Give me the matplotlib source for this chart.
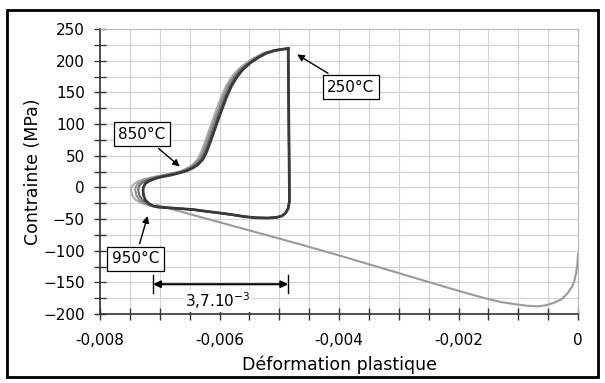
import matplotlib
matplotlib.use("Agg")
import matplotlib.pyplot as plt
from matplotlib.patches import Rectangle
from matplotlib.ticker import MultipleLocator

# upper branch + left turn of each loop (stress, MPa), shared by the 4 loops
upper_y = [219, 218, 216, 212, 205, 196, 186, 174, 160, 143, 123, 102, 86, 70, 55,
           44, 36, 31, 26, 23, 19, 16, 13, 10, 6, 1, -5, -13, -20, -25, -29, -31,
           -32, -33]

# plastic strain on that part, darkest to lightest loop
upper_dark = [-0.00485, -0.00495, -0.00507, -0.00521, -0.00535, -0.00549, -0.00561,
              -0.00571, -0.00580, -0.00588, -0.00596, -0.00604, -0.00610, -0.00616,
              -0.00622, -0.00628, -0.00636, -0.00644, -0.00655, -0.00666, -0.00683,
              -0.00700, -0.00710, -0.00718, -0.00724, -0.00727, -0.00728, -0.00727,
              -0.00724, -0.00719, -0.00712, -0.00703, -0.00690, -0.00675]
upper_mid = [-0.00485, -0.00496, -0.00508, -0.00523, -0.00537, -0.00551, -0.00564,
             -0.00574, -0.00583, -0.00591, -0.00599, -0.00607, -0.00613, -0.00619,
             -0.00625, -0.00631, -0.00639, -0.00647, -0.00658, -0.00670, -0.00688,
             -0.00705, -0.00716, -0.00724, -0.00731, -0.00735, -0.00736, -0.00734,
             -0.00729, -0.00722, -0.00713, -0.00704, -0.00690, -0.00675]
upper_light = [-0.00485, -0.00497, -0.00510, -0.00525, -0.00539, -0.00553, -0.00566,
               -0.00577, -0.00586, -0.00594, -0.00602, -0.00610, -0.00616, -0.00622,
               -0.00628, -0.00634, -0.00642, -0.00650, -0.00661, -0.00673, -0.00692,
               -0.00709, -0.00721, -0.00729, -0.00736, -0.00740, -0.00741, -0.00739,
               -0.00734, -0.00726, -0.00715, -0.00705, -0.00690, -0.00675]
upper_lightest = [-0.00485, -0.00498, -0.00511, -0.00527, -0.00541, -0.00556, -0.00569,
                  -0.00580, -0.00589, -0.00597, -0.00605, -0.00613, -0.00619, -0.00625,
                  -0.00631, -0.00637, -0.00645, -0.00653, -0.00664, -0.00676, -0.00696,
                  -0.00713, -0.00726, -0.00735, -0.00742, -0.00747, -0.00748, -0.00746,
                  -0.00740, -0.00730, -0.00716, -0.00705, -0.00690, -0.00675]

# lower branch + right unloading, common to all loops
lower_x = [-0.00661, -0.00645, -0.00630, -0.00604, -0.00580, -0.00560, -0.00540,
           -0.00520, -0.00505, -0.00495, -0.00489, -0.00485, -0.00483, -0.00483,
           -0.00484, -0.00485]
lower_y = [-34, -35, -37, -40, -43, -46, -48, -48.5, -47.5, -45, -40, -33, -22, -5,
           100, 219]

# first cooling curve
cool_x = [0.0, -0.00001, -0.00003, -0.00006, -0.00010, -0.00018, -0.00028, -0.00042,
          -0.00055, -0.00069, -0.00085, -0.00105, -0.00130, -0.00160, -0.00198,
          -0.00298, -0.00398, -0.00465, -0.00705]
cool_y = [-105, -120, -135, -147, -157, -168, -177, -183, -186.5, -188, -187, -184.5,
          -181, -174, -164, -136, -108, -90, -28]

x_ticks = [-0.008, -0.006, -0.004, -0.002, 0]
x_labels = ["-0,008", "-0,006", "-0,004", "-0,002", "0"]
y_ticks = [-200, -150, -100, -50, 0, 50, 100, 150, 200, 250]

plt.rcParams["font.family"] = "DejaVu Sans"

fig = plt.figure(figsize=(6.05, 3.83), dpi=100)
ax = fig.add_axes([100 / 605, 1 - 314 / 383, 478 / 605, 285 / 383])

fig.patches.append(Rectangle((7 / 605, 1 - 377 / 383), 591 / 605, 367 / 383,
                             transform=fig.transFigure, fill=False,
                             edgecolor="black", linewidth=2))

ax.plot(cool_x, cool_y, color="#9a9a9a", lw=1.5, zorder=3)
loops = [(upper_lightest, "#acacac", 1.5), (upper_light, "#909090", 1.5),
         (upper_mid, "#707070", 1.6), (upper_dark, "#3a3a3a", 2.0)]
for xs, c, w in loops:
    ax.plot(xs + lower_x, upper_y + lower_y, color=c, lw=w, zorder=4,
            solid_joinstyle="round")

ax.set_xlim(-0.008, 0)
ax.set_ylim(-200, 250)
ax.set_xticks(x_ticks)
ax.set_xticklabels(x_labels)
ax.set_yticks(y_ticks)
ax.xaxis.set_minor_locator(MultipleLocator(0.0005))
ax.yaxis.set_minor_locator(MultipleLocator(25))
ax.grid(True, which="both", color="#d2d2d2", lw=0.8, zorder=0)
ax.set_axisbelow(True)
ax.tick_params(which="both", direction="inout", length=8, width=1, color="#333333",
               labelsize=11)
ax.tick_params(axis="x", pad=10)
ax.tick_params(axis="y", pad=7)
for s in ["left", "bottom"]:
    ax.spines[s].set_color("#333333")
    ax.spines[s].set_linewidth(1.2)
for s in ["top", "right"]:
    ax.spines[s].set_color("#b5b5b5")
    ax.spines[s].set_linewidth(0.8)

ax.set_xlabel("Déformation plastique", fontsize=12.5, labelpad=5)
ax.set_ylabel("Contrainte (MPa)", fontsize=12.5, labelpad=1)

box = dict(boxstyle="square,pad=0.3", fc="white", ec="black", lw=0.9)
arrow = dict(arrowstyle="-|>", color="black", lw=1, mutation_scale=10)
ax.annotate("850°C", xy=(-0.00663, 30), xytext=(-0.0073, 84), fontsize=11,
            ha="center", va="center", bbox=box, arrowprops=arrow, zorder=6)
ax.annotate("950°C", xy=(-0.00719, -41), xytext=(-0.00741, -113), fontsize=11,
            ha="center", va="center", bbox=box, arrowprops=arrow, zorder=6)
ax.annotate("250°C", xy=(-0.00474, 212), xytext=(-0.0038, 158), fontsize=11,
            ha="center", va="center", bbox=box, arrowprops=arrow, zorder=6)

# 3,7.10-3 dimension
ax.annotate("", xy=(-0.00711, -153), xytext=(-0.00485, -153),
            arrowprops=dict(arrowstyle="<|-|>", color="black", lw=1.5,
                            shrinkA=0, shrinkB=0, mutation_scale=10), zorder=6)
ax.plot([-0.00711, -0.00711], [-139, -167], color="black", lw=1, zorder=6)
ax.plot([-0.00485, -0.00485], [-139, -167], color="black", lw=1, zorder=6)
ax.text(-0.00603, -179, "3,7.10$^{-3}$", fontsize=11, ha="center", va="center",
        bbox=dict(boxstyle="square,pad=0.05", fc="white", ec="none"), zorder=5)

fig.savefig("out.png", dpi=100)
